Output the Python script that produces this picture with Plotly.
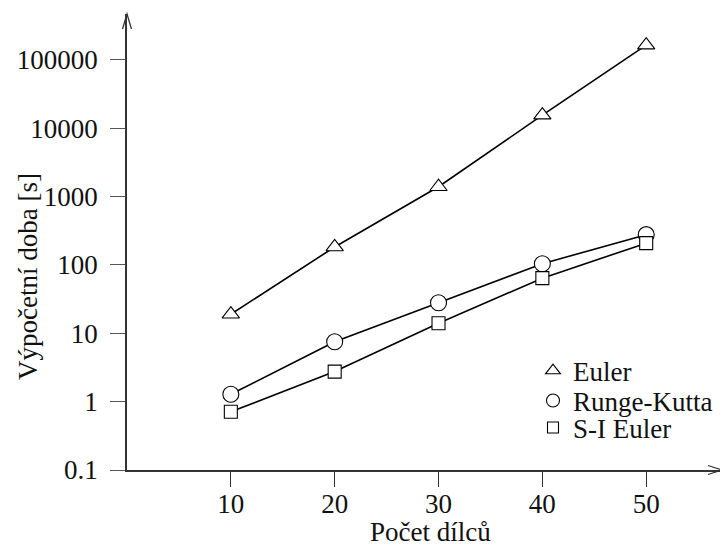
import plotly.graph_objects as go

x_vals = [10, 20, 30, 40, 50]
euler = [19, 183, 1390, 15500, 164000]
runge_kutta = [1.28, 7.5, 28, 104, 277]
si_euler = [0.71, 2.75, 14, 64, 208]

series_names = ["Euler", "Runge-Kutta", "S-I Euler"]
y_tick_vals = [0.1, 1, 10, 100, 1000, 10000, 100000]
y_tick_text = ["0.1", "1", "10", "100", "1000", "10000", "100000"]
x_tick_vals = [10, 20, 30, 40, 50]

FONT = "Liberation Serif"
FS = 27
symbols = ["triangle-up", "circle", "square"]
sizes = [15, 16, 13]
leg_sizes = [13, 13, 11]
legend_ids = ["legend", "legend2", "legend3"]

# page body has an 8px margin; figure is sized so that it fills the window
W, H = 720, 538
OFF = 8
# target plot area in screen pixels
PL, PR, PT, PB = 127, 722, 14, 470
ml, mt = PL - OFF, PT - OFF
mr = W - (PR - OFF)
mb = H - (PB - OFF)
pw, ph = PR - PL, PB - PT


def px_x(sx):
    return (sx - PL) / pw


def px_y(sy):
    return (PB - sy) / ph


fig = go.Figure()
for ys, sym, sz in zip([euler, runge_kutta, si_euler], symbols, sizes):
    fig.add_trace(go.Scatter(
        x=x_vals, y=ys, mode="lines+markers", showlegend=False,
        line=dict(color="black", width=1.6),
        marker=dict(symbol=sym, size=sz, color="white",
                    line=dict(color="black", width=1.1)),
    ))
for name, sym, sz, lid in zip(series_names, symbols, leg_sizes, legend_ids):
    fig.add_trace(go.Scatter(
        x=[None], y=[None], mode="markers", name=name, legend=lid,
        marker=dict(symbol=sym, size=sz, color="white",
                    line=dict(color="black", width=1.1)),
    ))

leg_common = dict(xanchor="left", yanchor="middle", bgcolor="rgba(0,0,0,0)",
                  borderwidth=0, font=dict(family=FONT, size=FS, color="#111"))
leg_y = [371, 401, 428]

fig.update_layout(
    width=W, height=H,
    margin=dict(l=ml, r=mr, t=mt, b=mb),
    paper_bgcolor="white", plot_bgcolor="white",
    font=dict(family=FONT, size=FS, color="#111"),
    xaxis=dict(range=[0, 57.3], tickvals=x_tick_vals, showgrid=False,
               zeroline=False, showline=True, linecolor="#333", linewidth=1.5,
               ticks="outside", ticklen=15, tickcolor="#333", tickwidth=1.2,
               ticklabelstandoff=-6,
               tickfont=dict(family=FONT, size=FS, color="#111")),
    yaxis=dict(type="log", range=[-1, 5.67], tickvals=y_tick_vals,
               ticktext=y_tick_text, showgrid=False, zeroline=False,
               showline=True, linecolor="#333", linewidth=1.5,
               ticks="outside", ticklen=15, tickcolor="#555", tickwidth=1.2,
               ticklabelstandoff=7,
               tickfont=dict(family=FONT, size=FS, color="#111")),
    legend=dict(x=px_x(533), y=px_y(leg_y[0]), **leg_common),
    legend2=dict(x=px_x(533), y=px_y(leg_y[1]), **leg_common),
    legend3=dict(x=px_x(533), y=px_y(leg_y[2]), **leg_common),
    showlegend=True,
)

# axis arrow heads (open, LaTeX style)
ax_len = 14 / pw
ax_half = 4.5 / ph
ay_len = 15 / ph
ay_half = 4.5 / pw
fig.add_shape(type="path", xref="paper", yref="paper",
              path=f"M {1-ax_len},{ax_half} L 1,0 L {1-ax_len},{-ax_half}",
              line=dict(color="#333", width=1.3))
fig.add_shape(type="path", xref="paper", yref="paper",
              path=f"M {-ay_half},{1-ay_len} L 0,1 L {ay_half},{1-ay_len}",
              line=dict(color="#333", width=1.3))

fig.add_annotation(text="Počet dílců", xref="paper", yref="paper",
                   x=px_x(430), y=px_y(532), showarrow=False,
                   xanchor="center", yanchor="middle",
                   font=dict(family=FONT, size=FS, color="#111"))
fig.add_annotation(text="Výpočetní doba [s]", xref="paper", yref="paper",
                   x=px_x(28), y=px_y(277), showarrow=False,
                   textangle=-90, xanchor="center", yanchor="middle",
                   font=dict(family=FONT, size=FS, color="#111"))

fig.write_html("out.html")
